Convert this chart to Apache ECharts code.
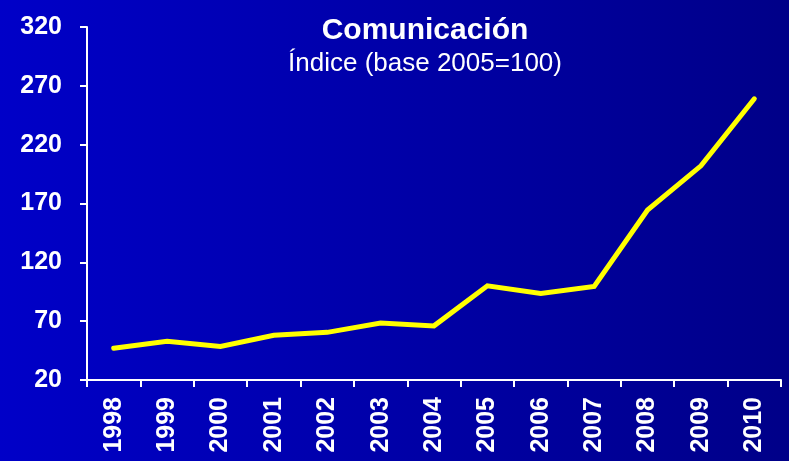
<!DOCTYPE html>
<html><head><meta charset="utf-8">
<script src="https://cdn.jsdelivr.net/npm/echarts@6/dist/echarts.min.js"></script>
<style>html,body{margin:0;padding:0;}#c{width:789px;height:461px;}</style>
</head><body><div id="c"></div>
<script>
const categories = ['1998','1999','2000','2001','2002','2003','2004','2005','2006','2007','2008','2009','2010'];
const values = [47, 53, 48.5, 58, 60.5, 68.5, 66, 100, 93.5, 99.5, 164.5, 202, 259];
const yTicks = {min: 20, max: 320, interval: 50};
const titleText = 'Comunicación';
const subtitleText = 'Índice (base 2005=100)';

const chart = echarts.init(document.getElementById('c'));
chart.setOption({
  animation: false,
  backgroundColor: new echarts.graphic.LinearGradient(0, 0, 1, 0, [
    {offset: 0, color: '#0000C8'}, {offset: 1, color: '#000088'}
  ]),
  title: {
    text: titleText, subtext: subtitleText,
    left: 420, top: 11, textAlign: 'center', itemGap: 5,
    textStyle: {color: '#fff', fontFamily: 'Liberation Sans', fontWeight: 'bold', fontSize: 30},
    subtextStyle: {color: '#fff', fontFamily: 'Liberation Sans', fontSize: 26}
  },
  grid: {left: 87, right: 8, top: 27, bottom: 81},
  xAxis: {
    type: 'category', data: categories, boundaryGap: true,
    axisLine: {lineStyle: {color: '#fff', width: 2}},
    axisTick: {show: true, length: 7, lineStyle: {color: '#fff', width: 2}, alignWithLabel: false},
    axisLabel: {color: '#fff', fontFamily: 'Liberation Sans', fontWeight: 'bold', fontSize: 25, rotate: 90, margin: 17, interval: 0}
  },
  yAxis: {
    type: 'value', min: yTicks.min, max: yTicks.max, interval: yTicks.interval,
    axisLine: {show: true, lineStyle: {color: '#fff', width: 2}},
    axisTick: {show: true, length: 7, lineStyle: {color: '#fff', width: 2}},
    splitLine: {show: false},
    axisLabel: {color: '#fff', fontFamily: 'Liberation Sans', fontWeight: 'bold', fontSize: 25, margin: 25}
  },
  series: [{
    type: 'line', data: values, symbol: 'none',
    lineStyle: {color: '#FFFF00', width: 5, cap: 'round', join: 'miter'}
  }]
});
</script></body></html>
